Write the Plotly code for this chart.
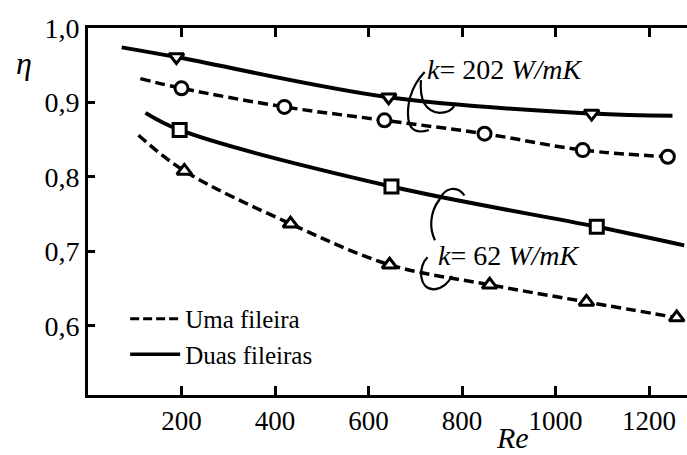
import plotly.graph_objects as go

# Two rows (Duas fileiras), k = 202 W/mK  (solid, down triangles)
a_start = (72, 0.974)
a_re = [189, 643, 1077]
a_eta = [0.961, 0.907, 0.885]
a_end = (1250, 0.882)

# One row (Uma fileira), k = 202 W/mK  (dashed, circles)
b_start = (112, 0.932)
b_re = [200, 420, 634, 848, 1058, 1240]
b_eta = [0.919, 0.894, 0.876, 0.858, 0.836, 0.827]

# Two rows, k = 62 W/mK  (solid, squares)
c_start = (123, 0.886)
c_re = [196, 649, 1088]
c_eta = [0.863, 0.787, 0.733]
c_end = (1275, 0.708)

# One row, k = 62 W/mK  (dashed, up triangles)
d_start = (108, 0.856)
d_re = [206, 433, 645, 859, 1066, 1259]
d_eta = [0.808, 0.737, 0.682, 0.655, 0.632, 0.611]

x_ticks = [200, 400, 600, 800, 1000, 1200]
y_ticks = [0.6, 0.7, 0.8, 0.9, 1.0]
legend_labels = ["Uma fileira", "Duas fileiras"]

FONT = "Liberation Serif"
MS = 13

fig = go.Figure()


def add_series(start, xs, ys, end, dash, symbol, width):
    x = [start[0]] + xs + ([end[0]] if end else [])
    y = [start[1]] + ys + ([end[1]] if end else [])
    sizes = [0] + [MS] * len(xs) + ([0] if end else [])
    fig.add_trace(go.Scatter(
        x=x, y=y, mode="lines+markers", showlegend=False,
        line=dict(color="black", width=width, dash=dash, shape="spline"),
        marker=dict(symbol=symbol, size=sizes, color="white", opacity=1,
                    line=dict(color="#000000", width=3)),
        hoverinfo="skip"))


add_series(a_start, a_re, a_eta, a_end, "solid", "triangle-down", 4)
add_series(b_start, b_re, b_eta, None, "10px,5px", "circle", 3.5)
add_series(c_start, c_re, c_eta, c_end, "solid", "square", 4)
add_series(d_start, d_re, d_eta, None, "10px,5px", "triangle-up", 3.5)

# legend entries
fig.add_trace(go.Scatter(x=[None], y=[None], mode="lines", name=legend_labels[0],
                         line=dict(color="black", width=3, dash="9px,4px")))
fig.add_trace(go.Scatter(x=[None], y=[None], mode="lines", name=legend_labels[1],
                         line=dict(color="black", width=3.5)))

# curved pointer brackets
paths = [
    "M 720,0.941 C 688,0.920 682,0.895 685,0.878 C 688,0.862 705,0.858 729,0.863",
    "M 712,0.930 C 709,0.905 720,0.888 752,0.886 C 768,0.886 778,0.890 783,0.895",
    "M 805,0.775 C 790,0.789 763,0.786 752,0.770 C 730,0.752 730,0.730 742,0.715",
    "M 726,0.692 C 705,0.679 707,0.649 740,0.649 C 758,0.650 772,0.658 778,0.667",
]
for p in paths:
    fig.add_shape(type="path", path=p, xref="x", yref="y",
                  line=dict(color="black", width=2.2))

fig.add_annotation(x=720, y=0.944, xref="x", yref="y", xanchor="left", yanchor="middle",
                   text="<i>k</i>= 202 <i>W/mK</i>", showarrow=False,
                   font=dict(family=FONT, size=28, color="black"))
fig.add_annotation(x=745, y=0.695, xref="x", yref="y", xanchor="left", yanchor="middle",
                   text="<i>k</i>= 62 <i>W/mK</i>", showarrow=False,
                   font=dict(family=FONT, size=28, color="black"))
fig.add_annotation(x=-0.107, y=0.905, xref="paper", yref="paper",
                   xanchor="center", yanchor="middle",
                   text="<i>η</i>", showarrow=False,
                   font=dict(family=FONT, size=32, color="black"))
fig.add_annotation(x=908, y=-0.117, xref="x", yref="paper",
                   xanchor="center", yanchor="middle",
                   text="<i>Re</i>", showarrow=False,
                   font=dict(family=FONT, size=30, color="black"))

fig.update_layout(
    width=687, height=455,
    margin=dict(l=88, r=0, t=28, b=60),
    paper_bgcolor="white", plot_bgcolor="white",
    separators=",.",
    font=dict(family=FONT, color="black"),
    legend=dict(x=0.062, y=0.27, xanchor="left", yanchor="top",
                bgcolor="rgba(0,0,0,0)", font=dict(family=FONT, size=25),
                itemwidth=50, tracegroupgap=0),
    xaxis=dict(range=[0, 1281], tickvals=x_ticks, ticks="inside", ticklen=9,
               tickwidth=2.5, tickcolor="black", showline=True, linewidth=3,
               linecolor="black", mirror="ticks", showgrid=False, zeroline=False,
               tickfont=dict(family=FONT, size=27, color="black")),
    yaxis=dict(range=[0.507, 1.0], tickvals=y_ticks, tickformat=".1f",
               ticks="inside", ticklen=7, tickwidth=2.5, tickcolor="black",
               showline=True, linewidth=3, linecolor="black", showgrid=False,
               zeroline=False, tickfont=dict(family=FONT, size=28, color="black")),
)

fig.write_html("out.html")
